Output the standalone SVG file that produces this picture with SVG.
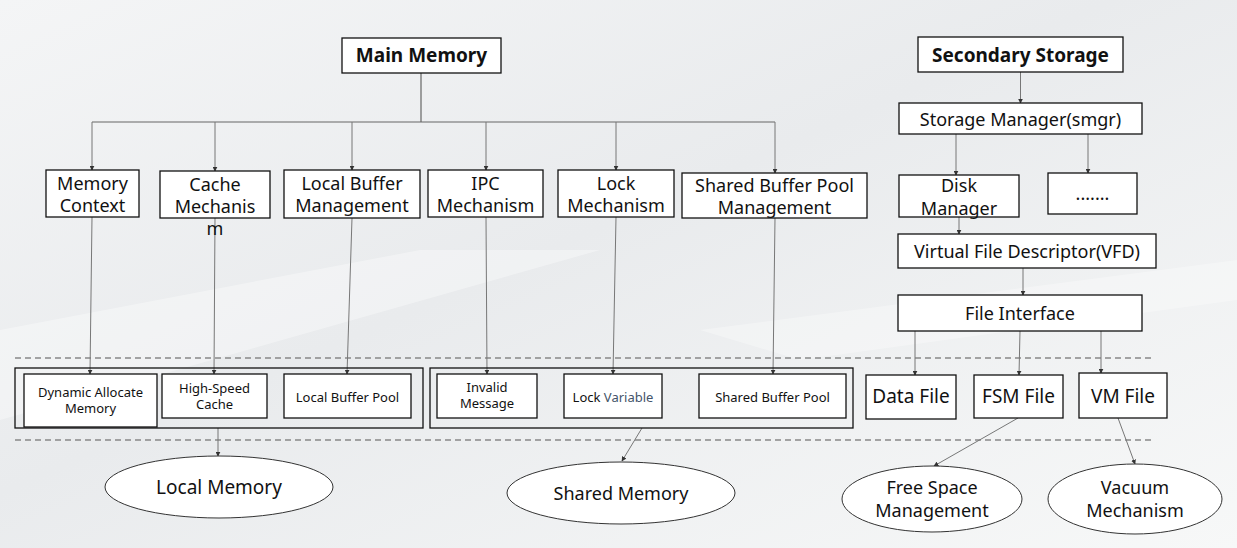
<svg xmlns="http://www.w3.org/2000/svg" width="1237" height="548" viewBox="0 0 1237 548">
<defs>
<linearGradient id="bg" x1="0" y1="0" x2="1" y2="1">
<stop offset="0" stop-color="#f4f5f6"/>
<stop offset="0.45" stop-color="#e9ebed"/>
<stop offset="1" stop-color="#f7f8f8"/>
</linearGradient>
<marker id="ah" viewBox="0 0 8 8" refX="7" refY="4" markerWidth="5" markerHeight="5" orient="auto" markerUnits="userSpaceOnUse">
<path d="M0,0 L8,4 L0,8 z" fill="#333"/>
</marker>
<style>
.box{fill:#fff;stroke:#111;stroke-width:1.3}
.grp{fill:none;stroke:#111;stroke-width:1.3}
.ell{fill:#fff;stroke:#333;stroke-width:1}
.t{font-family:"Noto Sans","Open Sans",sans-serif;font-size:18px;fill:#111;text-anchor:middle}
.b{font-weight:bold;font-size:19px}
.s{font-size:13px}
.e{font-size:19px}
.c{fill:none;stroke:#777;stroke-width:1;marker-end:url(#ah)}
.l{fill:none;stroke:#666;stroke-width:1.2}
.d{fill:none;stroke:#888;stroke-width:1.3;stroke-dasharray:6 4}
</style>
</defs>
<rect width="1237" height="548" fill="url(#bg)"/>
<polygon points="0,330 420,250 600,250 0,420" fill="#fff" opacity="0.35"/>
<polygon points="700,330 1237,260 1237,300 800,360" fill="#fff" opacity="0.3"/>

<g id="dividers">
<line class="d" x1="15" y1="358" x2="1152" y2="358"/>
<line class="d" x1="15" y1="440" x2="1155" y2="440"/>
</g>

<g id="connectors">
<polyline class="l" points="421,73 421,122"/>
<line class="l" x1="92" y1="122" x2="775" y2="122"/>
<line class="c" x1="92" y1="122" x2="92" y2="170"/>
<line class="c" x1="215" y1="122" x2="215" y2="171"/>
<line class="c" x1="352" y1="122" x2="352" y2="170"/>
<line class="c" x1="486" y1="122" x2="486" y2="170"/>
<line class="c" x1="616" y1="122" x2="616" y2="170"/>
<line class="c" x1="775" y1="122" x2="775" y2="173"/>
<line class="c" x1="92" y1="217" x2="90" y2="374"/>
<line class="c" x1="215" y1="218" x2="214" y2="374"/>
<line class="c" x1="352" y1="218" x2="347" y2="374"/>
<line class="c" x1="486" y1="217" x2="487" y2="374"/>
<line class="c" x1="616" y1="217" x2="613" y2="374"/>
<line class="c" x1="775" y1="218" x2="773" y2="374"/>
<line class="c" x1="218" y1="428" x2="218" y2="456"/>
<line class="c" x1="642" y1="428" x2="622" y2="461"/>
<line class="c" x1="1020.5" y1="72" x2="1020.5" y2="103"/>
<line class="c" x1="956" y1="134" x2="956" y2="175"/>
<line class="c" x1="1088" y1="134" x2="1088" y2="173"/>
<line class="c" x1="959" y1="217" x2="959" y2="234"/>
<line class="c" x1="1023" y1="268" x2="1023" y2="295"/>
<line class="c" x1="915" y1="331" x2="915" y2="375"/>
<line class="c" x1="1020" y1="331" x2="1019" y2="375"/>
<line class="c" x1="1101" y1="331" x2="1101" y2="373"/>
<line class="c" x1="1018" y1="418" x2="934" y2="466"/>
<line class="c" x1="1118" y1="418" x2="1135" y2="464"/>
</g>

<g id="main-memory">
<rect class="box" x="342" y="38" width="159" height="35"/>
<text class="t b" x="421.5" y="62">Main Memory</text>
</g>
<g id="memory-context">
<rect class="box" x="46" y="170" width="93" height="47"/>
<text class="t" x="92.5" y="190">Memory</text>
<text class="t" x="92.5" y="212">Context</text>
</g>
<g id="cache-mechanism">
<rect class="box" x="160" y="171" width="110" height="47"/>
<text class="t" x="215" y="191">Cache</text>
<text class="t" x="215" y="213">Mechanis</text>
<text class="t" x="215" y="235">m</text>
</g>
<g id="local-buffer-management">
<rect class="box" x="284" y="170" width="136" height="48"/>
<text class="t" x="352" y="190">Local Buffer</text>
<text class="t" x="352" y="212">Management</text>
</g>
<g id="ipc-mechanism">
<rect class="box" x="428" y="170" width="115" height="47"/>
<text class="t" x="485.5" y="190">IPC</text>
<text class="t" x="485.5" y="212">Mechanism</text>
</g>
<g id="lock-mechanism">
<rect class="box" x="558" y="170" width="116" height="47"/>
<text class="t" x="616" y="190">Lock</text>
<text class="t" x="616" y="212">Mechanism</text>
</g>
<g id="shared-buffer-pool-management">
<rect class="box" x="682" y="173" width="185" height="45"/>
<text class="t" x="774.5" y="192">Shared Buffer Pool</text>
<text class="t" x="774.5" y="214">Management</text>
</g>

<g id="local-group">
<rect class="grp" x="15" y="368" width="408" height="60"/>
</g>
<g id="dynamic-allocate-memory">
<rect class="box" x="24" y="374" width="133" height="53"/>
<text class="t s" x="90.5" y="397">Dynamic Allocate</text>
<text class="t s" x="90.5" y="413">Memory</text>
</g>
<g id="high-speed-cache">
<rect class="box" x="162" y="374" width="105" height="44"/>
<text class="t s" x="214.5" y="393">High-Speed</text>
<text class="t s" x="214.5" y="409">Cache</text>
</g>
<g id="local-buffer-pool">
<rect class="box" x="284" y="374" width="127" height="44"/>
<text class="t s" x="347.5" y="402">Local Buffer Pool</text>
</g>

<g id="shared-group">
<rect class="grp" x="430" y="368" width="423" height="60"/>
</g>
<g id="invalid-message">
<rect class="box" x="437" y="374" width="100" height="44"/>
<text class="t s" x="487" y="392">Invalid</text>
<text class="t s" x="487" y="408">Message</text>
</g>
<g id="lock-variable">
<rect class="box" x="564" y="374" width="98" height="44"/>
<text class="t s" x="613" y="402">Lock <tspan fill="#44546a">Variable</tspan></text>
</g>
<g id="shared-buffer-pool">
<rect class="box" x="699" y="374" width="147" height="44"/>
<text class="t s" x="772.5" y="402">Shared Buffer Pool</text>
</g>

<g id="local-memory">
<ellipse class="ell" cx="219" cy="487" rx="114" ry="31"/>
<text class="t e" x="219" y="494">Local Memory</text>
</g>
<g id="shared-memory">
<ellipse class="ell" cx="621" cy="493" rx="114" ry="31"/>
<text class="t" x="621" y="500">Shared Memory</text>
</g>

<g id="secondary-storage">
<rect class="box" x="918" y="37" width="205" height="35"/>
<text class="t b" x="1020.5" y="62">Secondary Storage</text>
</g>
<g id="storage-manager">
<rect class="box" x="899" y="103" width="243" height="31"/>
<text class="t" x="1020.5" y="126">Storage Manager(smgr)</text>
</g>
<g id="disk-manager">
<rect class="box" x="899" y="175" width="120" height="42"/>
<text class="t" x="959" y="192">Disk</text>
<text class="t" x="959" y="215">Manager</text>
</g>
<g id="more">
<rect class="box" x="1048" y="173" width="89" height="41"/>
<text class="t" x="1092.5" y="200">.......</text>
</g>
<g id="vfd">
<rect class="box" x="898" y="234" width="258" height="34"/>
<text class="t" x="1027" y="258">Virtual File Descriptor(VFD)</text>
</g>
<g id="file-interface">
<rect class="box" x="898" y="295" width="244" height="36"/>
<text class="t" x="1020" y="320">File Interface</text>
</g>
<g id="data-file">
<rect class="box" x="866" y="375" width="90" height="44"/>
<text class="t e" x="911" y="403">Data File</text>
</g>
<g id="fsm-file">
<rect class="box" x="974" y="375" width="89" height="43"/>
<text class="t e" x="1018.5" y="403">FSM File</text>
</g>
<g id="vm-file">
<rect class="box" x="1079" y="373" width="88" height="45"/>
<text class="t e" x="1123" y="403">VM File</text>
</g>
<g id="free-space-management">
<ellipse class="ell" cx="932" cy="499" rx="90" ry="33"/>
<text class="t" x="932" y="494">Free Space</text>
<text class="t" x="932" y="517">Management</text>
</g>
<g id="vacuum-mechanism">
<ellipse class="ell" cx="1135" cy="499" rx="87" ry="35"/>
<text class="t" x="1135" y="494">Vacuum</text>
<text class="t" x="1135" y="517">Mechanism</text>
</g>
</svg>
